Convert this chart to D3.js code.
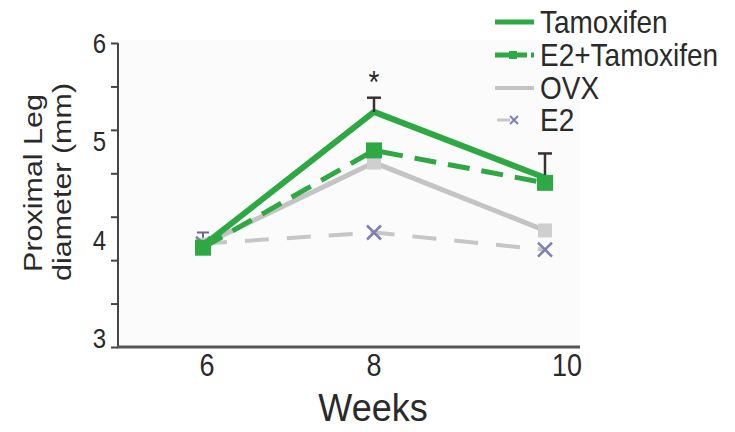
<!DOCTYPE html>
<html><head><meta charset="utf-8">
<script src="https://cdn.jsdelivr.net/npm/d3@7/dist/d3.min.js"></script>
<style>body{margin:0;background:#fff}svg{display:block;font-family:"Liberation Sans",Arial,sans-serif}</style>
</head><body><svg id="c" width="735" height="432"></svg>
<script>
const weeks = [6, 8, 10];
const seriesNames = ["Tamoxifen", "E2+Tamoxifen", "OVX", "E2"];
const tamoxifen = [4.00, 5.32, 4.67];
const e2Tamoxifen = [3.98, 4.94, 4.62];
const ovx = [4.01, 4.82, 4.15];
const e2 = [4.02, 4.13, 3.96];
const tamoxifenErr = [0, 0.14, 0.24];
const e2Err = [0.11, 0, 0];
const yLabels = [3, 4, 5, 6];
const xLabels = ["6", "8", "10"];

const svg = d3.select("#c");
const x = d3.scaleLinear().domain([6, 10]).range([203, 545]);
const y = d3.scaleLinear().domain([3, 6]).range([347, 43]);
const SY = 1.15; // vertical stretch of text in the source image

function stxt(g, px, py, txt, size, anchor, fill, sy) {
  const t = g.append("g").attr("transform", `translate(${px},${py}) scale(1,${sy || SY})`);
  t.append("text").attr("x", 0).attr("y", 0).attr("text-anchor", anchor || "start")
    .attr("dominant-baseline", "central").attr("font-size", size).attr("fill", fill || "#333").text(txt);
  return t;
}

// faint plot background
svg.append("rect").attr("x", 120).attr("y", 40).attr("width", 460).attr("height", 306).attr("fill", "#fbfbfb");

// Y axis
const yTicks = d3.range(0, 8).map(k => 3 + k * 3 / 7);
const yAxis = d3.axisLeft(y).tickValues(yTicks).tickSize(7).tickFormat("");
const gy = svg.append("g").attr("transform", "translate(118,0)").call(yAxis);
gy.select(".domain").attr("stroke", "#444").attr("stroke-width", 2).attr("d", `M0,${y(6)}V${y(3)}`);
gy.selectAll(".tick line").attr("stroke", "#444").attr("stroke-width", 2);
yLabels.forEach(v => stxt(svg, 106, y(v) - (6 - v) * 2.8, String(v), 24, "end", "#2a2a2a"));

// X axis
const xAxis = d3.axisBottom(x).tickValues(weeks).tickSize(0).tickFormat("");
const gx = svg.append("g").attr("transform", `translate(0,${y(3)})`).call(xAxis);
gx.select(".domain").attr("stroke", "#555").attr("stroke-width", 3).attr("d", `M117,0H580`);
weeks.forEach((w, i) => stxt(svg, x(w) + (i === 2 ? 22 : i === 0 ? 4 : 0), 365, xLabels[i], 27, "middle", "#2a2a2a"));
stxt(svg, 373, 407, "Weeks", 36, "middle", "#2a2a2a", 1.1);

// Y title (rotated, stretched along its length)
const yt = svg.append("g").attr("transform", "translate(33,183) rotate(-90) scale(1.15,1)");
yt.append("text").attr("text-anchor", "middle").attr("dominant-baseline", "central").attr("font-size", 26.5).attr("fill", "#2a2a2a").text("Proximal Leg");
const yt2 = svg.append("g").attr("transform", "translate(62,182) rotate(-90) scale(1.15,1)");
yt2.append("text").attr("text-anchor", "middle").attr("dominant-baseline", "central").attr("font-size", 26.5).attr("fill", "#2a2a2a").text("diameter (mm)");

const green = "#2ea843";
const line = d3.line().x((d, i) => x(weeks[i])).y(d => y(d));

// E2 (dashed gray, x markers)
svg.append("path").datum(e2).attr("d", line).attr("fill", "none").attr("stroke", "#c6c6c6").attr("stroke-width", 4).attr("stroke-dasharray", "24,18");
e2.forEach((v, i) => { if (e2Err[i] > 0) {
  svg.append("line").attr("x1", x(weeks[i])).attr("x2", x(weeks[i])).attr("y1", y(v)).attr("y2", y(v + e2Err[i])).attr("stroke", "#6a6a90").attr("stroke-width", 2);
  svg.append("line").attr("x1", x(weeks[i]) - 6).attr("x2", x(weeks[i]) + 6).attr("y1", y(v + e2Err[i])).attr("y2", y(v + e2Err[i])).attr("stroke", "#6a6a90").attr("stroke-width", 2);
}});
// OVX (solid light gray)
svg.append("path").datum(ovx).attr("d", line).attr("fill", "none").attr("stroke", "#c4c4c4").attr("stroke-width", 5);
svg.selectAll(".ovxm").data(ovx).enter().append("rect").attr("x", (d, i) => x(weeks[i]) - 7).attr("y", d => y(d) - 7).attr("width", 14).attr("height", 14).attr("fill", "#cfcfcf");
svg.selectAll(".e2m").data(e2).enter().append("path")
  .attr("d", (d, i) => { const cx = x(weeks[i]), cy = y(d), s = 7; return `M${cx - s},${cy - s}L${cx + s},${cy + s}M${cx - s},${cy + s}L${cx + s},${cy - s}`; })
  .attr("stroke", "#7f7fb0").attr("stroke-width", 2.5).attr("fill", "none");

// E2+Tamoxifen (dashed green, squares)
svg.append("path").datum(e2Tamoxifen).attr("d", line).attr("fill", "none").attr("stroke", green).attr("stroke-width", 5).attr("stroke-dasharray", "22,12");
// Tamoxifen (solid green)
svg.append("path").datum(tamoxifen).attr("d", line).attr("fill", "none").attr("stroke", green).attr("stroke-width", 6).attr("stroke-linejoin", "round");
tamoxifen.forEach((v, i) => { if (tamoxifenErr[i] > 0) {
  const cx = x(weeks[i]);
  svg.append("line").attr("x1", cx).attr("x2", cx).attr("y1", y(v)).attr("y2", y(v + tamoxifenErr[i])).attr("stroke", "#3a3030").attr("stroke-width", 2.5);
  svg.append("line").attr("x1", cx - 7).attr("x2", cx + 7).attr("y1", y(v + tamoxifenErr[i])).attr("y2", y(v + tamoxifenErr[i])).attr("stroke", "#3a3030").attr("stroke-width", 2.5);
}});
svg.selectAll(".e2tm").data(e2Tamoxifen).enter().append("rect").attr("x", (d, i) => x(weeks[i]) - 8).attr("y", d => y(d) - 8).attr("width", 16).attr("height", 16).attr("fill", green);

// significance star
stxt(svg, x(8), 82, "*", 28, "middle", "#2a2a2a");

// Legend
const legY = [22, 55, 88, 120];
const lg = svg.append("g");
lg.append("line").attr("x1", 495).attr("x2", 534).attr("y1", legY[0]).attr("y2", legY[0]).attr("stroke", green).attr("stroke-width", 5);
lg.append("line").attr("x1", 495).attr("x2", 534).attr("y1", legY[1]).attr("y2", legY[1]).attr("stroke", green).attr("stroke-width", 5).attr("stroke-dasharray", "14,4");
lg.append("rect").attr("x", 509).attr("y", legY[1] - 4).attr("width", 8).attr("height", 8).attr("fill", green);
lg.append("line").attr("x1", 495).attr("x2", 534).attr("y1", legY[2]).attr("y2", legY[2]).attr("stroke", "#c4c4c4").attr("stroke-width", 4);
lg.append("line").attr("x1", 497).attr("x2", 510).attr("y1", legY[3]).attr("y2", legY[3]).attr("stroke", "#c6c6c6").attr("stroke-width", 3);
lg.append("path").attr("d", `M510,${legY[3] - 4}L518,${legY[3] + 4}M510,${legY[3] + 4}L518,${legY[3] - 4}`).attr("stroke", "#7f7fb0").attr("stroke-width", 2);
seriesNames.forEach((n, i) => stxt(lg, 540, legY[i], n, 28, "start", "#2a2a2a"));
</script></body></html>
